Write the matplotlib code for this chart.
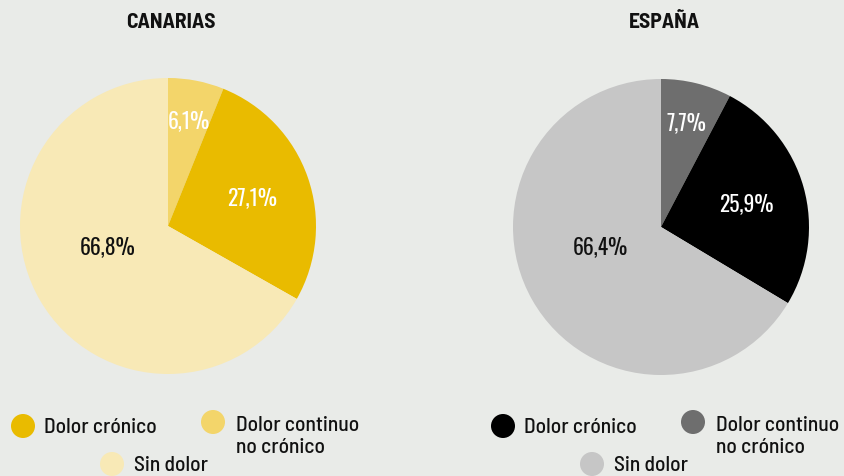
import matplotlib
matplotlib.use("Agg")
import matplotlib.pyplot as plt
from matplotlib.patches import Circle
import numpy as np

# ---- data ----
regions = ["CANARIAS", "ESPAÑA"]
categories = ["Dolor continuo\nno crónico", "Dolor crónico", "Sin dolor"]
canarias_values = [6.1, 27.1, 66.8]
espana_values = [7.7, 25.9, 66.4]
canarias_labels = ["6,1%", "27,1%", "66,8%"]
espana_labels = ["7,7%", "25,9%", "66,4%"]
canarias_colors = ["#f3d56a", "#e9bb00", "#f8e9b6"]
espana_colors = ["#6e6e6e", "#000000", "#c6c6c6"]
label_colors = ["white", "white", "#111111"]

BG = "#e9ebe8"
PCT_FONT = ["Oswald", "DejaVu Sans"]
LEG_FONT = ["Barlow Semi Condensed", "DejaVu Sans"]
TITLE_FONT = ["Barlow Semi Condensed", "DejaVu Sans"]

W, H = 844, 477
fig = plt.figure(figsize=(W / 100, H / 100), dpi=100)
fig.patch.set_facecolor(BG)

# overlay axes in pixel coordinates for titles and legends
ov = fig.add_axes([0, 0, 1, 1], zorder=5)
ov.set_xlim(0, W)
ov.set_ylim(H, 0)
ov.set_aspect("equal")
ov.axis("off")

# label placement: (radius fraction, angle offset in degrees)
label_place = [(0.73, 0), (0.60, 0), (0.43, 12)]

def draw_pie(cx, cy, r, values, colors, labels, title):
    ax = fig.add_axes([(cx - r) / W, (H - cy - r) / H, 2 * r / W, 2 * r / H])
    ax.set_facecolor(BG)
    wedges, _ = ax.pie(values, colors=colors, startangle=90, counterclock=False,
                       radius=1, wedgeprops=dict(linewidth=0))
    for w, lab, col, (rf, off) in zip(wedges, labels, label_colors, label_place):
        ang = np.deg2rad((w.theta1 + w.theta2) / 2 - off)
        ax.text(rf * np.cos(ang), rf * np.sin(ang), lab, ha="center", va="center",
                color=col, fontsize=15.5, family=PCT_FONT, fontweight="light")
    ax.set_xlim(-1, 1)
    ax.set_ylim(-1, 1)
    ax.set_aspect("equal")
    ax.axis("off")
    ov.text(cx + 3, 22, title, ha="center", va="center",
            fontsize=15.5, fontweight="bold", family=TITLE_FONT, color="#111111")

def draw_legend(x0, colors):
    entries = [(x0 + 23, 427, x0 + 44, 428, 1, categories[1]),
               (x0 + 213, 423, x0 + 236, 437, 0, categories[0]),
               (x0 + 112, 465, x0 + 134, 466, 2, categories[2])]
    for cxp, cyp, tx, ty, ci, txt in entries:
        ov.add_patch(Circle((cxp, cyp), 12, facecolor=colors[ci], edgecolor="none"))
        ov.text(tx, ty, txt, ha="left", va="center", fontsize=15.5, fontweight="medium",
                family=LEG_FONT, color="#111111", linespacing=1.2)

draw_pie(168, 227, 148, canarias_values, canarias_colors, canarias_labels, regions[0])
draw_pie(661, 228, 148, espana_values, espana_colors, espana_labels, regions[1])
draw_legend(0, canarias_colors)
draw_legend(480, espana_colors)

fig.savefig("out.png", dpi=100, facecolor=BG)
